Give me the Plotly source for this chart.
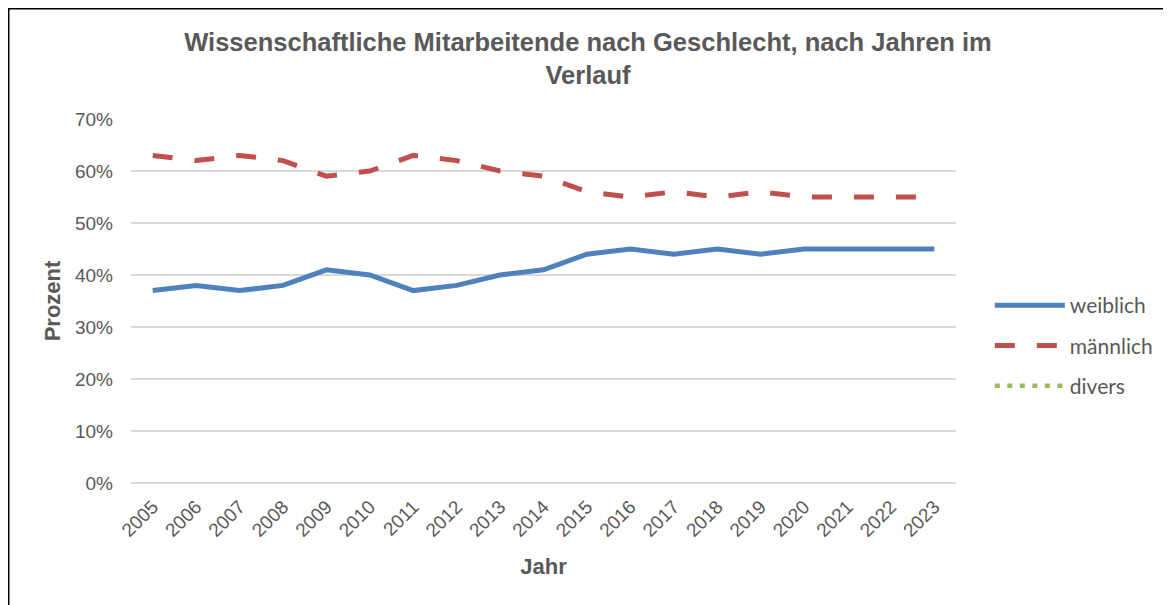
import plotly.graph_objects as go

years = [str(y) for y in range(2005, 2024)]
weiblich = [0.37, 0.38, 0.37, 0.38, 0.41, 0.40, 0.37, 0.38, 0.40, 0.41,
            0.44, 0.45, 0.44, 0.45, 0.44, 0.45, 0.45, 0.45, 0.45]
maennlich = [0.63, 0.62, 0.63, 0.62, 0.59, 0.60, 0.63, 0.62, 0.60, 0.59,
             0.56, 0.55, 0.56, 0.55, 0.56, 0.55, 0.55, 0.55, 0.55]
divers = [None] * len(years)

grey = "#595959"
arial = "Liberation Sans, Arial"
fig = go.Figure()
fig.add_trace(go.Scatter(x=years, y=weiblich, name="weiblich", mode="lines",
                         line=dict(color="#4F81BD", width=5), legendgroup="a"))
fig.add_trace(go.Scatter(x=years, y=maennlich, name="männlich", mode="lines",
                         line=dict(color="#C0504D", width=5, dash="20px,22px"), legendgroup="b"))
fig.add_trace(go.Scatter(x=years, y=divers, name="divers", mode="lines",
                         line=dict(color="#9BBB59", width=4.5, dash="5px,7.5px"), legendgroup="c"))

fig.update_layout(
    width=1171, height=605,
    paper_bgcolor="white", plot_bgcolor="white",
    margin=dict(l=123, r=223, t=111, b=130, autoexpand=False),
    title=dict(text="Wissenschaftliche Mitarbeitende nach Geschlecht, nach Jahren im<br>Verlauf",
               x=0.4953, xanchor="center", y=1 - 43 / 605, yanchor="top",
               font=dict(family=arial, size=25.5, color=grey, weight="bold")),
    xaxis=dict(type="category", range=[-0.5, 18.5], tickangle=-45, showgrid=False,
               showline=False, ticks="", ticklabelstandoff=8, automargin=False,
               tickfont=dict(family=arial, size=19, color=grey),
               title=dict(text="Jahr", standoff=18,
                          font=dict(family=arial, size=22, color=grey, weight="bold"))),
    yaxis=dict(range=[0, 0.7], dtick=0.1, tickformat=".0%", showgrid=True, gridcolor="#D9D9D9",
               gridwidth=1.5, zeroline=True, zerolinecolor="#D9D9D9", zerolinewidth=1.5,
               ticks="", ticklabelstandoff=17, automargin=False,
               tickfont=dict(family=arial, size=19, color=grey),
               title=dict(text="Prozent", standoff=8,
                          font=dict(family=arial, size=22, color=grey, weight="bold"))),
    legend=dict(x=1.041, xanchor="left", y=0.544, yanchor="top", itemwidth=70,
                tracegroupgap=10, bgcolor="rgba(0,0,0,0)",
                font=dict(family="Lato, Open Sans", size=21, color=grey)),
    showlegend=True,
)
fig.add_shape(type="rect", xref="paper", yref="paper", x0=-0.1482, x1=1.2524, y0=-0.5, y1=1.3029,
              line=dict(color="black", width=1.5), layer="below")

fig.write_html("out.html")
